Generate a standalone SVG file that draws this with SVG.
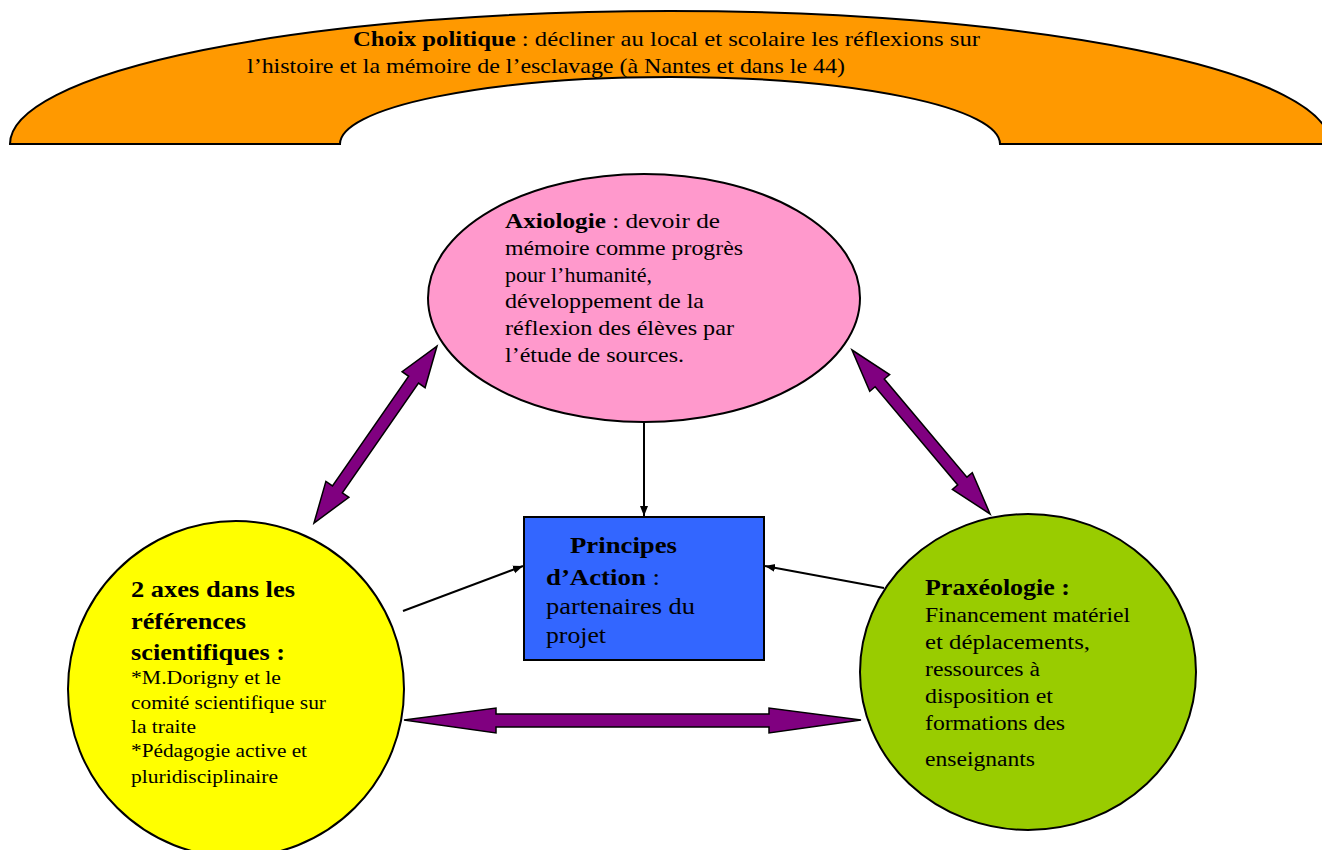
<svg xmlns="http://www.w3.org/2000/svg" width="1322" height="850" viewBox="0 0 1322 850">
<defs>
<style>
text{font-family:"Liberation Serif","Times New Roman",Times,serif;fill:#000;}
.b{font-weight:bold;}
.shape{stroke:#000;stroke-width:2;}
.dbl{fill:#800080;stroke:#000;stroke-width:1.5;stroke-linejoin:miter;}
.ln{stroke:#000;stroke-width:2;fill:none;}
</style>
<marker id="ah" viewBox="0 0 10 10" refX="10" refY="5" markerWidth="5" markerHeight="5" orient="auto" markerUnits="strokeWidth">
<path d="M0,1 L10,5 L0,9 Z" fill="#000"/>
</marker>
</defs>
<rect width="1322" height="850" fill="#fff"/>

<g id="choix" font-family="Liberation Serif, serif">
<path class="shape" fill="#FF9900" d="M10,144 A660,133 0 0 1 1330,144 L1000,144 A330,67 0 0 0 340,144 Z"/>
<text font-size="22" x="353" y="46" textLength="627" lengthAdjust="spacingAndGlyphs"><tspan class="b">Choix politique</tspan> : décliner au local et scolaire les réflexions sur</text>
<text font-size="22" x="247" y="73" textLength="598" lengthAdjust="spacingAndGlyphs">l’histoire et la mémoire de l’esclavage (à Nantes et dans le 44)</text>
</g>

<g id="axiologie" font-family="Liberation Serif, serif">
<ellipse class="shape" fill="#FF99CC" cx="644" cy="298" rx="216" ry="124"/>
<text font-size="21.5" x="505" y="228" textLength="215" lengthAdjust="spacingAndGlyphs"><tspan class="b">Axiologie</tspan> : devoir de</text>
<text font-size="21.5" x="505" y="255" textLength="238" lengthAdjust="spacingAndGlyphs">mémoire comme progrès</text>
<text font-size="21.5" x="505" y="282" textLength="147" lengthAdjust="spacingAndGlyphs">pour l’humanité,</text>
<text font-size="21.5" x="505" y="308" textLength="199" lengthAdjust="spacingAndGlyphs">développement de la</text>
<text font-size="21.5" x="505" y="335" textLength="229" lengthAdjust="spacingAndGlyphs">réflexion des élèves par</text>
<text font-size="21.5" x="505" y="362" textLength="179" lengthAdjust="spacingAndGlyphs">l’étude de sources.</text>
</g>

<g id="principes" font-family="Liberation Serif, serif">
<rect class="shape" fill="#3366FF" x="524" y="517" width="240" height="143"/>
<text class="b" font-size="24" x="570" y="553" textLength="107" lengthAdjust="spacingAndGlyphs">Principes</text>
<text font-size="24" x="546" y="585" textLength="114" lengthAdjust="spacingAndGlyphs"><tspan class="b">d’Action</tspan> :</text>
<text font-size="24" x="546" y="614" textLength="149" lengthAdjust="spacingAndGlyphs">partenaires du</text>
<text font-size="24" x="546" y="643" textLength="60" lengthAdjust="spacingAndGlyphs">projet</text>
</g>

<g id="references" font-family="Liberation Serif, serif">
<ellipse class="shape" fill="#FFFF00" cx="236" cy="689" rx="168" ry="168"/>
<text class="b" font-size="23" x="131" y="597" textLength="164" lengthAdjust="spacingAndGlyphs">2 axes dans les</text>
<text class="b" font-size="23" x="131" y="629" textLength="115" lengthAdjust="spacingAndGlyphs">références</text>
<text class="b" font-size="23" x="131" y="660" textLength="154" lengthAdjust="spacingAndGlyphs">scientifiques :</text>
<text font-size="18.5" x="131" y="684" textLength="150" lengthAdjust="spacingAndGlyphs">*M.Dorigny et le</text>
<text font-size="18.5" x="131" y="709" textLength="195" lengthAdjust="spacingAndGlyphs">comité scientifique sur</text>
<text font-size="18.5" x="131" y="733" textLength="65" lengthAdjust="spacingAndGlyphs">la traite</text>
<text font-size="18.5" x="131" y="757" textLength="176" lengthAdjust="spacingAndGlyphs">*Pédagogie active et</text>
<text font-size="18.5" x="131" y="783" textLength="147" lengthAdjust="spacingAndGlyphs">pluridisciplinaire</text>
</g>

<g id="praxeologie" font-family="Liberation Serif, serif">
<ellipse class="shape" fill="#99CC00" cx="1028" cy="672" rx="168" ry="158"/>
<text class="b" font-size="23" x="925" y="595" textLength="145" lengthAdjust="spacingAndGlyphs">Praxéologie :</text>
<text font-size="20" x="925" y="622" textLength="205" lengthAdjust="spacingAndGlyphs">Financement matériel</text>
<text font-size="20" x="925" y="649" textLength="165" lengthAdjust="spacingAndGlyphs">et  déplacements,</text>
<text font-size="20" x="925" y="676" textLength="115" lengthAdjust="spacingAndGlyphs">ressources à</text>
<text font-size="20" x="925" y="703" textLength="128" lengthAdjust="spacingAndGlyphs">disposition et</text>
<text font-size="20" x="925" y="730" textLength="140" lengthAdjust="spacingAndGlyphs">formations des</text>
<text font-size="20" x="925" y="766" textLength="110" lengthAdjust="spacingAndGlyphs">enseignants</text>
</g>

<g id="connectors">
<line class="ln" x1="644" y1="422" x2="644" y2="516" marker-end="url(#ah)"/>
<line class="ln" x1="403" y1="611" x2="523" y2="566" marker-end="url(#ah)"/>
<line class="ln" x1="884" y1="588" x2="765" y2="566" marker-end="url(#ah)"/>
<polygon class="dbl" transform="translate(314,523) rotate(-55.2)" points="0,0 41,-14 41,-6 174.5,-6 174.5,-14 215.5,0 174.5,14 174.5,6 41,6 41,14"/>
<polygon class="dbl" transform="translate(852,350) rotate(49.9)" points="0,0 43,-13 43,-6 171.3,-6 171.3,-13 214.3,0 171.3,13 171.3,6 43,6 43,13"/>
<polygon class="dbl" points="404,720 496,708 496,714 769,714 769,708 861,720 769,733 769,727 496,727 496,733"/>
</g>
</svg>
